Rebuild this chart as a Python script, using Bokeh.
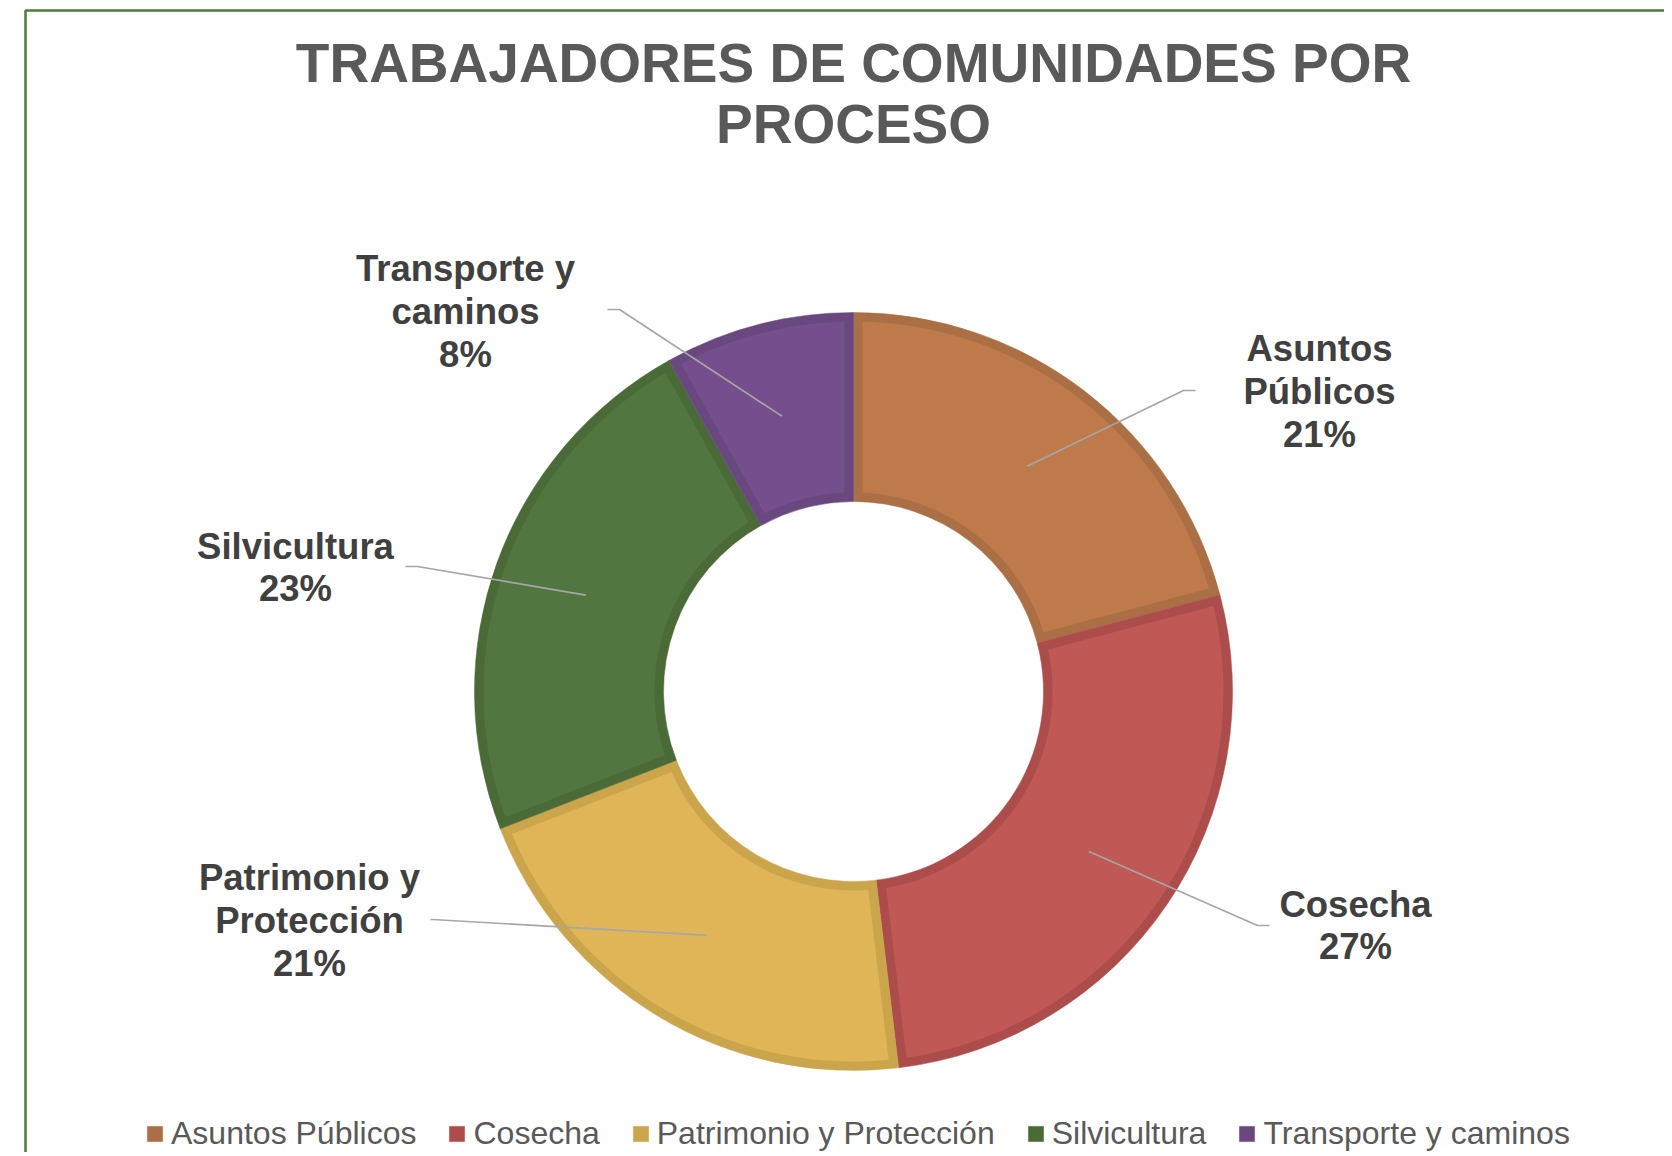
import numpy as np
from bokeh.plotting import figure
from bokeh.models import (ColumnDataSource, Range1d, Legend, LegendItem, Label,
                          BoxAnnotation)
from bokeh.core.properties import value
from bokeh.embed import file_html
from bokeh.resources import INLINE

# ---------------- data ----------------
categories = ["Asuntos Públicos", "Cosecha", "Patrimonio y Protección",
              "Silvicultura", "Transporte y caminos"]
values = [20.9, 27.2, 21.0, 22.8, 8.1]
label_lines = [["Asuntos", "Públicos"], ["Cosecha"], ["Patrimonio y", "Protección"],
               ["Silvicultura"], ["Transporte y", "caminos"]]
title_lines = ["TRABAJADORES DE COMUNIDADES POR", "PROCESO"]

# ---------------- styles ----------------
fill_colors = ["#BE7A4A", "#C05855", "#E0B558", "#527640", "#754F8D"]
edge_colors = ["#AB6F45", "#AC4D4B", "#CBA54C", "#4A6B38", "#69477F"]

W, H = 1664, 1152
PAGE_H = 1156


def Y(yref):
    return PAGE_H - yref


CX, CY = 853, Y(691)
R_OUT, R_IN = 379, 190
BAND = 9

# label block centers (reference pixel coords) and leader starts
label_pos = [(1319, 391), (1355, 925), (309, 920), (295, 567), (465, 311)]
leader_start = [[(1195, 390), (1183, 390)], [(1269, 925), (1257, 925)],
                [(430, 919), (432, 919)], [(405, 566), (417, 566)],
                [(607, 309), (619, 309)]]
LINE_H = 42.7

p = figure(width=W, height=H, output_backend="svg", toolbar_location=None,
           x_range=Range1d(0, W), y_range=Range1d(PAGE_H - H, PAGE_H),
           x_axis_type=None, y_axis_type=None, min_border=0,
           outline_line_color=None, background_fill_color="white",
           border_fill_color="white")
p.grid.visible = False

vals = np.array(values, dtype=float)
frac = vals / vals.sum()
cum = np.concatenate([[0], np.cumsum(frac)])
start = np.pi / 2 - 2 * np.pi * cum[:-1]
end = np.pi / 2 - 2 * np.pi * cum[1:]

src = ColumnDataSource(dict(cat=categories, start=start, end=end,
                            edge=edge_colors, fill=fill_colors))
dark = p.annular_wedge(x=CX, y=CY, inner_radius=R_IN, outer_radius=R_OUT,
                       start_angle="start", end_angle="end", direction="clock",
                       fill_color="edge", line_color="edge", line_width=0.5,
                       source=src)

# inner lighter region inset by BAND px
xs, ys = [], []
for s, e in zip(start, end):
    ro, ri = R_OUT - BAND, R_IN + BAND
    ao = np.arcsin(BAND / ro)
    ai = np.arcsin(BAND / ri)
    t_out = np.linspace(s - ao, e + ao, 200)
    t_in = np.linspace(e + ai, s - ai, 200)
    px = np.concatenate([CX + ro * np.cos(t_out), CX + ri * np.cos(t_in)])
    py = np.concatenate([CY + ro * np.sin(t_out), CY + ri * np.sin(t_in)])
    xs.append(px.tolist())
    ys.append(py.tolist())
p.patches(xs=xs, ys=ys, fill_color=fill_colors, line_color=None)

# leader lines: from label to mid-ring point at mid-angle
mid = (start + end) / 2
RM = (R_OUT + R_IN) / 2
lx, ly = [], []
for i in range(len(categories)):
    pts = leader_start[i]
    ex = CX + RM * np.cos(mid[i])
    ey = CY + RM * np.sin(mid[i])
    lx.append([pts[0][0], pts[1][0], ex])
    ly.append([Y(pts[0][1]), Y(pts[1][1]), ey])
p.multi_line(xs=lx, ys=ly, line_color="#A6A6A6", line_width=1.7)

# data labels
tx, ty, tt = [], [], []
for i, cat in enumerate(categories):
    lines = label_lines[i] + [f"{round(frac[i] * 100):.0f}%"]
    n = len(lines)
    cxl, cyl = label_pos[i]
    for j, t in enumerate(lines):
        tx.append(cxl)
        ty.append(Y(cyl + (j - (n - 1) / 2) * LINE_H))
        tt.append(t)
p.text(x=tx, y=ty, text=tt, text_font=value("Liberation Sans"),
       text_font_style="bold", text_font_size="36.5px", text_color="#404040",
       text_align="center", text_baseline="middle")

# title
for t, yy in zip(title_lines, [62, 123]):
    p.add_layout(Label(x=853, y=Y(yy), text=t, text_font="Liberation Sans",
                       text_font_style="bold", text_font_size="55px",
                       text_color="#595959", text_align="center",
                       text_baseline="middle"))

# chart border (left/top visible)
p.add_layout(BoxAnnotation(left=25, right=3000, top=Y(10), bottom=-3000,
                           fill_color=None, fill_alpha=0, line_color="#4F7A3B",
                           line_alpha=1.0, line_width=2.5))

# legend
items = [LegendItem(label=c, renderers=[dark], index=i) for i, c in enumerate(categories)]
legend = Legend(items=items, orientation="horizontal", location=(145, 0),
                glyph_width=19, glyph_height=19, label_standoff=7, spacing=31,
                label_text_font="Liberation Sans", label_text_font_size="32px",
                label_text_color="#595959", border_line_color=None,
                background_fill_alpha=0, padding=0, margin=0)
p.add_layout(legend)

open("out.html", "w").write(file_html(p, INLINE))
